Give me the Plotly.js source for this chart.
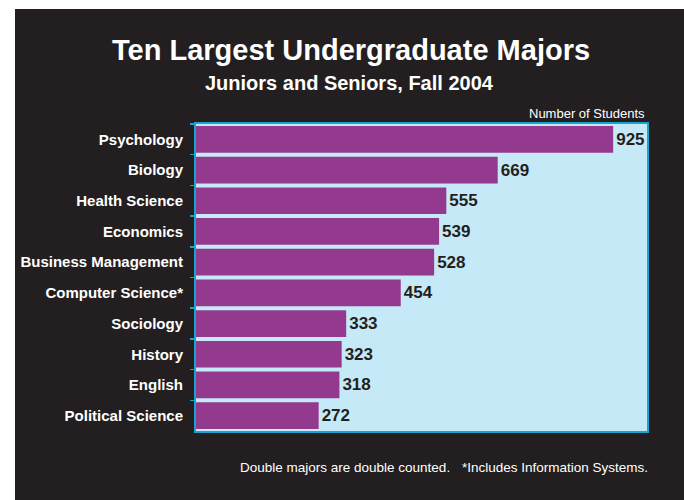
<!DOCTYPE html>
<html>
<head>
<meta charset="utf-8">
<script src="https://cdn.plot.ly/plotly-3.0.1.min.js"></script>
<style>
html,body{margin:0;padding:0;background:#ffffff;width:684px;height:500px;overflow:hidden;}
#chart{position:absolute;left:15px;top:9px;width:669px;height:491px;}
</style>
</head>
<body>
<div id="chart"></div>
<script>
const majors = ["Psychology","Biology","Health Science","Economics","Business Management","Computer Science*","Sociology","History","English","Political Science"];
const students = [925,669,555,539,528,454,333,323,318,272];
const titleText = "Ten Largest Undergraduate Majors";
const subtitleText = "Juniors and Seniors, Fall 2004";
const unitText = "Number of Students";
const note1 = "Double majors are double counted.";
const note2 = "*Includes Information Systems.";

const sans = "'Liberation Sans', Arial, sans-serif";

const trace = {
  type: "bar",
  orientation: "h",
  y: majors,
  x: students,
  marker: {color: "#933a8e", line: {width: 0}},
  text: students.map(String),
  textposition: "outside",
  cliponaxis: false,
  textfont: {family: sans, size: 17, color: "#231f20", weight: "bold"},
  hoverinfo: "none"
};

const layout = {
  width: 669, height: 491,
  paper_bgcolor: "#231f20",
  plot_bgcolor: "#c6e9f8",
  margin: {l: 181, r: 37, t: 115, b: 69, pad: 0},
  showlegend: false,
  bargap: 0.13,
  xaxis: {
    range: [0, 1000], showgrid: false, zeroline: false, showticklabels: false, ticks: "",
    showline: true, mirror: true, linecolor: "#1aa3cc", linewidth: 2, fixedrange: true
  },
  yaxis: {
    type: "category", autorange: "reversed", showgrid: false, zeroline: false,
    showline: true, mirror: true, linecolor: "#1aa3cc", linewidth: 2,
    ticks: "outside", ticklen: 4, tickcolor: "#1aa3cc", tickwidth: 1.5, tickson: "boundaries",
    ticklabelstandoff: 8,
    tickfont: {family: sans, size: 15, color: "#ffffff", weight: "bold"}
  },
  annotations: [
    {text: "<b>" + titleText + "</b>", xref: "paper", yref: "paper", x: 0.343, y: 1, yshift: 74,
     xanchor: "center", yanchor: "middle", showarrow: false,
     font: {family: sans, size: 29, color: "#ffffff"}},
    {text: "<b>" + subtitleText + "</b>", xref: "paper", yref: "paper", x: 0.341, y: 1, yshift: 41,
     xanchor: "center", yanchor: "middle", showarrow: false,
     font: {family: sans, size: 20, color: "#ffffff"}},
    {text: unitText, xref: "paper", yref: "paper", x: 1, y: 1, yshift: 11,
     xanchor: "right", yanchor: "middle", showarrow: false,
     font: {family: sans, size: 13, color: "#ffffff"}},
    {text: note1, xref: "paper", yref: "paper", x: 0.093, y: 0, yshift: -36,
     xanchor: "left", yanchor: "middle", showarrow: false,
     font: {family: sans, size: 13.5, color: "#ffffff"}},
    {text: note2, xref: "paper", yref: "paper", x: 1.007, y: 0, yshift: -36,
     xanchor: "right", yanchor: "middle", showarrow: false,
     font: {family: sans, size: 13.5, color: "#ffffff"}}
  ]
};

Plotly.newPlot("chart", [trace], layout, {displayModeBar: false, staticPlot: true});
</script>
</body>
</html>
